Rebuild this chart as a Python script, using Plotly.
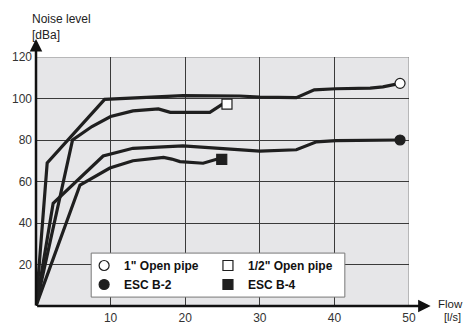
import plotly.graph_objects as go

# Flow [l/s] and noise level [dBa] for each outlet
pipe1_flow = [0, 1.5, 9.2, 12.6, 15.3, 19.7, 27.3, 30.0, 34.9, 37.3, 40.2, 44.8, 46.5, 48.8]
pipe1_noise = [0, 69, 99.6, 100.2, 100.9, 101.4, 101.2, 100.7, 100.4, 104.2, 104.7, 105.0, 105.6, 107.3]

pipe05_flow = [0, 4.9, 7.5, 10.0, 13.0, 16.4, 18.0, 23.3, 25.0, 25.6]
pipe05_noise = [0, 80, 86.5, 91.3, 94.0, 95.0, 93.3, 93.3, 97.3, 97.3]

escb2_flow = [0, 2.3, 9.0, 13.0, 19.7, 25.0, 30.0, 34.9, 37.6, 40.2, 48.8]
escb2_noise = [0, 49.5, 72.3, 76.0, 77.2, 76.0, 74.6, 75.3, 79.1, 79.7, 80.0]

escb4_flow = [0, 5.9, 9.9, 13.0, 17.1, 18.2, 19.3, 22.4, 24.2, 24.9]
escb4_noise = [0, 58.3, 66.5, 70.0, 71.6, 70.8, 69.6, 68.8, 70.7, 70.7]

series_names = ['1" Open pipe', 'ESC B-2', '1/2" Open pipe', 'ESC B-4']

x_ticks = [10, 20, 30, 40, 50]
y_ticks = [20, 40, 60, 80, 100, 120]

LINE = '#1f1f1f'
FONT = 'Liberation Sans, Arial, sans-serif'

fig = go.Figure()

curves = [
    (pipe1_flow, pipe1_noise, series_names[0], 'circle', 'white', 'legend'),
    (escb2_flow, escb2_noise, series_names[1], 'circle', LINE, 'legend'),
    (pipe05_flow, pipe05_noise, series_names[2], 'square', 'white', 'legend2'),
    (escb4_flow, escb4_noise, series_names[3], 'square', LINE, 'legend2'),
]

for fx, fy, name, sym, fill, leg in curves:
    fig.add_trace(go.Scatter(
        x=fx, y=fy, mode='lines', showlegend=False,
        line=dict(color=LINE, width=3.2), hoverinfo='skip'))

for fx, fy, name, sym, fill, leg in curves:
    fig.add_trace(go.Scatter(
        x=[fx[-1]], y=[fy[-1]], mode='markers', name='<b>' + name + '</b>', legend=leg,
        marker=dict(symbol=sym, size=10, color=fill,
                    line=dict(color=LINE, width=1.2))))

# legend box
fig.add_shape(type='rect', xref='x', yref='y', x0=7.4, x1=41.4, y0=4.3, y1=25.5,
              fillcolor='white', line=dict(color='#777', width=1), layer='above')
# plot-area frame
fig.add_shape(type='rect', xref='x', yref='y', x0=0, x1=50, y0=0, y1=120,
              line=dict(color='#888', width=1), layer='below')

# axis arrows
fig.add_annotation(xref='paper', yref='paper', x=0, y=1.072, ax=0, ay=268,
                   axref='pixel', ayref='pixel', showarrow=True, text='',
                   arrowhead=2, arrowsize=1, arrowwidth=2.5, arrowcolor='#111')
fig.add_annotation(xref='paper', yref='paper', x=1.058, y=0, ax=-395, ay=0,
                   showarrow=True, text='', arrowhead=2, arrowsize=1,
                   arrowwidth=2.5, arrowcolor='#111')

# axis titles
title_font = dict(size=12, color='#222')
fig.add_annotation(xref='paper', yref='paper', x=-0.016, y=1.19, xanchor='left',
                   yanchor='top', showarrow=False, align='left',
                   text='Noise level<br>[dBa]', font=title_font)
fig.add_annotation(xref='paper', yref='paper', x=1.075, y=0.010, xanchor='left',
                   yanchor='middle', showarrow=False, text='Flow', borderpad=0,
                   font=dict(size=11.5, color='#222'))
fig.add_annotation(xref='paper', yref='paper', x=1.091, y=-0.046, xanchor='left',
                   yanchor='middle', showarrow=False, text='[l/s]', borderpad=0,
                   font=dict(size=11, color='#222'))

axis_common = dict(showgrid=True, gridcolor='#3a3a3a', gridwidth=1, zeroline=False,
                   showline=False, ticks='', automargin=False,
                   tickfont=dict(size=12, color='#333'), ticklabelstandoff=3)
fig.update_xaxes(range=[0, 50], tickvals=x_ticks, **axis_common)
fig.update_yaxes(range=[0, 120], tickvals=y_ticks, **axis_common)

legend_common = dict(bgcolor='rgba(0,0,0,0)', borderwidth=0, itemwidth=30,
                     font=dict(family='Liberation Sans, Arial', size=12, color='#111'),
                     orientation='v', tracegroupgap=0, itemclick=False,
                     y=0.1245, yanchor='middle', xanchor='left')
fig.update_layout(
    width=464, height=325,
    margin=dict(l=36, r=55, t=57, b=19),
    paper_bgcolor='white', plot_bgcolor='#e6e6e8',
    font=dict(family=FONT),
    legend=dict(x=0.129, **legend_common),
    legend2=dict(x=0.461, **legend_common),
)

fig.write_html('out.html')
